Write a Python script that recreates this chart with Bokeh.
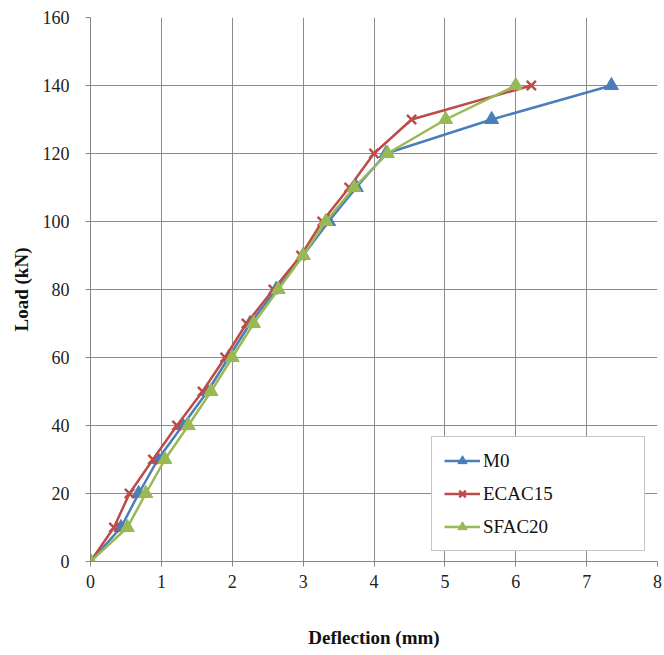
from bokeh.plotting import figure
from bokeh.embed import file_html
from bokeh.resources import INLINE
from bokeh.models import Range1d, FixedTicker, Legend, LegendItem

load = [0, 10, 20, 30, 40, 50, 60, 70, 80, 90, 100, 110, 120, 130, 140]
m0 = [0, 0.43, 0.68, 0.95, 1.3, 1.65, 1.95, 2.25, 2.62, 3.0, 3.36, 3.75, 4.17, 5.66, 7.35]
ecac15 = [0, 0.33, 0.55, 0.88, 1.22, 1.58, 1.9, 2.2, 2.58, 2.97, 3.27, 3.65, 4.0, 4.53, 6.22]
sfac20 = [0, 0.52, 0.78, 1.05, 1.38, 1.7, 2.0, 2.3, 2.65, 3.0, 3.32, 3.72, 4.19, 5.01, 6.0]
x_ticks = [0, 1, 2, 3, 4, 5, 6, 7, 8]
y_ticks = [0, 20, 40, 60, 80, 100, 120, 140, 160]

BLUE = "#4A7EBB"
RED = "#BE4B48"
GREEN = "#98B954"
FONT = "Liberation Serif"

p = figure(width=664, height=650, output_backend="svg", toolbar_location=None,
           x_range=Range1d(0, 8), y_range=Range1d(0, 160),
           min_border_left=90, min_border_right=7, min_border_top=17, min_border_bottom=89)
p.outline_line_color = None
p.background_fill_color = "white"

for ax in (p.xaxis[0], p.yaxis[0]):
    ax.major_label_text_font = FONT
    ax.major_label_text_font_size = "18px"
    ax.major_label_text_color = "#222222"
    ax.axis_label_text_font = FONT
    ax.axis_label_text_font_size = "19px"
    ax.axis_label_text_font_style = "bold"
    ax.axis_label_text_color = "#111111"
    ax.axis_line_color = "#868686"
    ax.major_tick_line_color = "#868686"
    ax.major_tick_out = 5
    ax.major_tick_in = 0
    ax.minor_tick_line_color = None

p.xaxis.ticker = FixedTicker(ticks=x_ticks)
p.yaxis.ticker = FixedTicker(ticks=y_ticks)
p.xaxis.axis_label = "Deflection (mm)"
p.yaxis.axis_label = "Load (kN)"
p.xaxis.major_label_standoff = 8
p.yaxis.major_label_standoff = 16
p.xaxis.axis_label_standoff = 36
p.yaxis.axis_label_standoff = 8

p.grid.grid_line_color = "#8C8C8C"
p.grid.grid_line_width = 1

lw = 2.5
l1 = p.line(m0, load, line_color=BLUE, line_width=lw)
s1 = p.scatter(m0, load, marker="triangle", size=14, fill_color=BLUE, line_color=BLUE)
l2 = p.line(ecac15, load, line_color=RED, line_width=lw)
s2 = p.scatter(ecac15, load, marker="x", size=13, line_color=RED, line_width=2.5)
l3 = p.line(sfac20, load, line_color=GREEN, line_width=lw)
s3 = p.scatter(sfac20, load, marker="triangle", size=14, fill_color=GREEN, line_color=GREEN)

legend = Legend(items=[
    LegendItem(label="M0", renderers=[l1, s1]),
    LegendItem(label="ECAC15", renderers=[l2, s2]),
    LegendItem(label="SFAC20", renderers=[l3, s3]),
], location=(341, 10))
legend.label_text_font = FONT
legend.label_text_font_size = "19px"
legend.label_text_color = "#111111"
legend.border_line_color = "#8C8C8C"
legend.border_line_width = 1.5
legend.padding = 12
legend.spacing = 10
legend.glyph_width = 36
legend.glyph_height = 23
legend.label_height = 23
legend.label_width = 149
legend.label_standoff = 3
legend.background_fill_alpha = 1
p.add_layout(legend)

open("out.html", "w").write(file_html(p, INLINE))
